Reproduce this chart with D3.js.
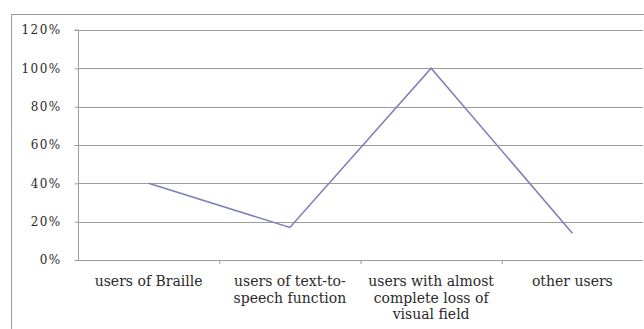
<!DOCTYPE html>
<html><head><meta charset="utf-8">
<script src="https://cdn.jsdelivr.net/npm/d3@7"></script>
<style>body{margin:0;background:#fff}svg{display:block} svg text{font-family:"DejaVu Serif",serif !important;}</style>
</head><body><svg id="c" width="644" height="329"></svg>
<script>
const categories = ["users of Braille", "users of text-to-speech function", "users with almost complete loss of visual field", "other users"];
const categoryLines = [["users of Braille"], ["users of text-to-", "speech function"], ["users with almost", "complete loss of", "visual field"], ["other users"]];
const values = [0.40, 0.17, 1.00, 0.14];
const yTicks = [0, 0.2, 0.4, 0.6, 0.8, 1.0, 1.2];

const svg = d3.select("#c");
const L = 78, R = 643, T = 30, B = 260;
// outer frame
svg.append("rect").attr("x", 11.5).attr("y", 14.5).attr("width", 640).attr("height", 330)
  .attr("fill", "none").attr("stroke", "#9a9a9a").attr("stroke-width", 1);

const x = d3.scaleBand().domain(categories).range([L, R]).paddingInner(0).paddingOuter(0);
const y = d3.scaleLinear().domain([0, 1.2]).range([B, T]);

// gridlines
svg.append("g").selectAll("line").data(yTicks.filter(d => d > 0)).join("line")
  .attr("x1", L).attr("x2", R).attr("y1", d => Math.round(y(d)) + 0.5).attr("y2", d => Math.round(y(d)) + 0.5)
  .attr("stroke", "#9c9c9c").attr("stroke-width", 1.2);

// y axis
const yAxis = d3.axisLeft(y).tickValues(yTicks).tickFormat(d3.format(".0%")).tickSize(4).tickPadding(13);
const gy = svg.append("g").attr("transform", `translate(${L + 0.5},0)`).call(yAxis)
  .attr("font-family", "DejaVu Serif").attr("font-size", 12);
gy.select(".domain").attr("stroke", "#9c9c9c").attr("d", `M-4,${y(1.2)}H0V${B + 0.5}`);
gy.selectAll(".tick line").attr("stroke", "#9c9c9c");
gy.selectAll(".tick text").attr("fill", "#2a2a2a").attr("letter-spacing", 1.4);

// x axis
const gx = svg.append("g").attr("transform", `translate(0,${Math.round(B) + 0.5})`)
  .call(d3.axisBottom(x).tickSize(0).tickFormat(""));
gx.select(".domain").attr("stroke", "#9c9c9c").attr("stroke-width", 1.2).attr("d", `M${L},0H${R}`);
// category boundary ticks
svg.append("g").selectAll("line").data(categories.slice(1)).join("line")
  .attr("x1", d => x(d) + 0.5).attr("x2", d => x(d) + 0.5)
  .attr("y1", Math.round(B)).attr("y2", Math.round(B) + 4).attr("stroke", "#9c9c9c");

// category labels
const lab = svg.append("g").attr("font-family", "DejaVu Serif").attr("font-size", 14)
  .selectAll("text").data(categories).join("text")
  .attr("x", d => x(d) + x.bandwidth() / 2).attr("y", 286)
  .attr("text-anchor", "middle").attr("fill", "#2a2a2a");
lab.each(function(d, i) {
  d3.select(this).selectAll("tspan").data(categoryLines[i]).join("tspan")
    .attr("x", x(d) + x.bandwidth() / 2).attr("dy", (t, j) => j === 0 ? 0 : 16.5).text(t => t);
});

// line
const line = d3.line().x((d, i) => x(categories[i]) + x.bandwidth() / 2).y(d => y(d));
svg.append("path").datum(values).attr("d", line).attr("fill", "none")
  .attr("stroke", "#7b80bd").attr("stroke-width", 1.6);
</script></body></html>
